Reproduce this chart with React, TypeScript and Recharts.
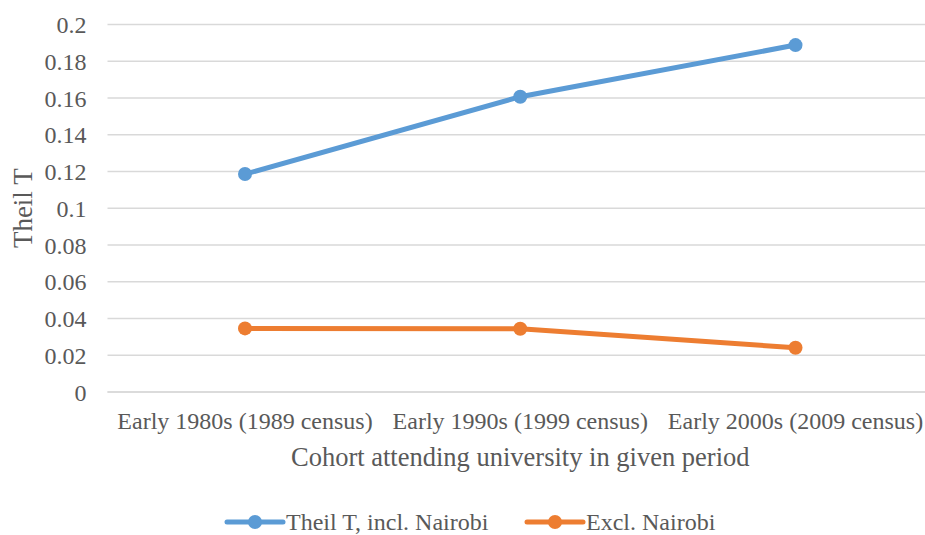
import { LineChart, Line, XAxis, YAxis, CartesianGrid, Legend, Label } from 'recharts';

// Cohort categories and Theil T values
const cohorts = [
  'Early 1980s (1989 census)',
  'Early 1990s (1999 census)',
  'Early 2000s (2009 census)',
];
const theilInclNairobi = [0.1186, 0.1607, 0.1888];
const theilExclNairobi = [0.0346, 0.0344, 0.0241];
const yTicks = [0, 0.02, 0.04, 0.06, 0.08, 0.1, 0.12, 0.14, 0.16, 0.18, 0.2];

const seriesNames = ['Theil T, incl. Nairobi', 'Excl. Nairobi'];
const BLUE = '#5b9bd5';
const ORANGE = '#ed7d31';
const TEXT = '#595959';
const FONT = "'Liberation Serif', 'Times New Roman', serif";

const data = cohorts.map((c, i) => ({
  cohort: c,
  incl: theilInclNairobi[i],
  excl: theilExclNairobi[i],
}));

const tickStyle = { fill: TEXT, fontSize: 24, fontFamily: FONT, style: { fontFamily: FONT } };

const YTitle = (props: any) => {
  const vb = props.viewBox || { x: 0, y: 0, height: 0 };
  const cx = 32;
  const cy = vb.y + vb.height / 2;
  return (
    <text
      x={cx}
      y={cy}
      transform={`rotate(-90, ${cx}, ${cy})`}
      textAnchor="middle"
      fill={TEXT}
      fontSize={27}
      style={{ fontFamily: FONT }}
    >
      Theil T
    </text>
  );
};

const LegendContent = (props: any) => {
  // keep the series order of the reference
  const items = [...(props.payload || [])].sort(
    (a: any, b: any) => seriesNames.indexOf(a.value) - seriesNames.indexOf(b.value)
  );
  const starts = [227, 527];
  return (
    <svg width={925} height={27} style={{ display: 'block' }}>
      {items.map((it: any, i: number) => {
        const x0 = starts[i] ?? 227 + i * 300;
        return (
          <g key={it.value}>
            <line x1={x0} y1={14} x2={x0 + 56} y2={14} stroke={it.color} strokeWidth={5} strokeLinecap="round" />
            <circle cx={x0 + 28} cy={14} r={7} fill={it.color} />
            <text x={x0 + 59} y={22} fill={TEXT} fontSize={24} style={{ fontFamily: FONT }}>
              {it.value}
            </text>
          </g>
        );
      })}
    </svg>
  );
};

const App = () => {
  return (
    <div
      style={{
        position: 'fixed',
        left: 0,
        top: 0,
        width: 925,
        height: 535,
        overflow: 'hidden',
        background: '#fff',
        fontFamily: FONT,
      }}
    >
      <LineChart
        width={933}
        height={535}
        data={data}
        margin={{ top: 24.5, right: 0, left: 0, bottom: 68 }}
        style={{ fontFamily: FONT }}
      >
        <CartesianGrid vertical={false} stroke="#d9d9d9" strokeWidth={1.5} />
        <XAxis
          dataKey="cohort"
          height={75}
          padding={{ left: 137.5, right: 137.5 }}
          axisLine={{ stroke: '#d9d9d9', strokeWidth: 1.5 }}
          tickLine={false}
          tickSize={0}
          tickMargin={20}
          interval={0}
          tick={tickStyle}
        >
          <Label
            value="Cohort attending university in given period"
            position="insideBottom"
            offset={1}
            fill={TEXT}
            fontSize={26.5}
            style={{ fontFamily: FONT }}
          />
        </XAxis>
        <YAxis
          width={107.5}
          domain={[0, 0.2]}
          ticks={yTicks}
          axisLine={false}
          tickLine={false}
          tickSize={0}
          tickMargin={21}
          tick={tickStyle}
        >
          <Label content={<YTitle />} />
        </YAxis>
        <Legend
          layout="horizontal"
          align="center"
          verticalAlign="middle"
          wrapperStyle={{ top: 508, left: 0, width: 925 }}
          content={<LegendContent />}
        />
        <Line
          type="linear"
          dataKey="incl"
          name={seriesNames[0]}
          stroke={BLUE}
          strokeWidth={5}
          dot={{ r: 7, fill: BLUE, stroke: BLUE, strokeWidth: 0 }}
          activeDot={false}
          isAnimationActive={false}
        />
        <Line
          type="linear"
          dataKey="excl"
          name={seriesNames[1]}
          stroke={ORANGE}
          strokeWidth={5}
          dot={{ r: 7, fill: ORANGE, stroke: ORANGE, strokeWidth: 0 }}
          activeDot={false}
          isAnimationActive={false}
        />
      </LineChart>
    </div>
  );
};

export default App;
